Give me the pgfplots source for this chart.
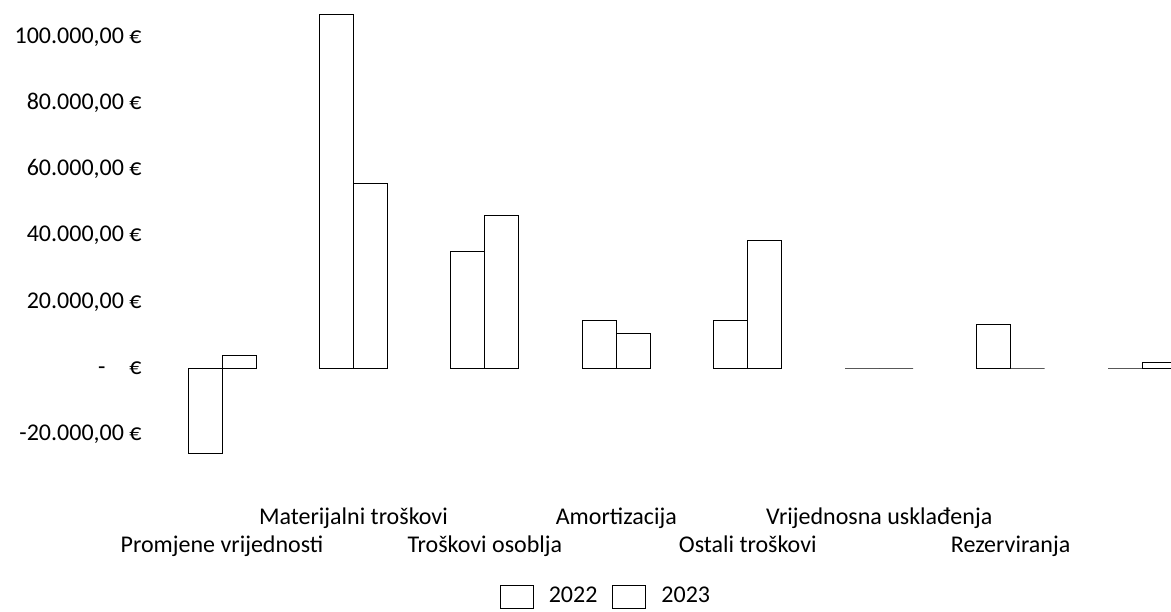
\documentclass[border=0pt]{standalone}
\usepackage{fontspec}
\setmainfont{Carlito}
\usepackage{pgfplots}
\pgfplotsset{compat=1.18}
\newcommand\lo[1]{\raisebox{-14pt}{#1}}
\begin{document}
\fontsize{12}{14}\selectfont
\begin{tikzpicture}
\useasboundingbox (0,0) rectangle (585.5pt,305.5pt);
\clip (0,0) rectangle (585.5pt,305.5pt);
\begin{axis}[
  at={(75pt,65.5pt)}, anchor=south west,
  scale only axis, width=510.5pt, height=237.5pt,
  xmin=-0.5478, xmax=7.2205,
  ymin=-33837, ymax=109668,
  axis line style={draw=none},
  major tick length=0pt,
  ybar=0pt, bar width=17pt,
  xtick={0,...,7},
  xticklabels={\lo{Promjene vrijednosti},Materijalni troškovi,\lo{Troškovi osoblja},Amortizacija,\lo{Ostali troškovi},Vrijednosna usklađenja,\lo{Rezerviranja},{}},
  xticklabel style={anchor=base, yshift=-22pt, inner sep=0pt, font=\fontsize{12}{14}\selectfont},
  ytick={-20000,0,20000,40000,60000,80000,100000},
  yticklabels={-20.000{,}00 €,-\hspace{1.0em}€,20.000{,}00 €,40.000{,}00 €,60.000{,}00 €,80.000{,}00 €,100.000{,}00 €},
  yticklabel style={anchor=east, inner sep=0pt, xshift=-4pt, font=\fontsize{12}{14}\selectfont},
  legend style={at={(0.4456,-0.2463)}, anchor=center, draw=none, legend columns=2,
    column sep=7.5pt, font=\fontsize{12}{14}\selectfont, nodes={inner sep=0pt}},
  legend image code/.code={\draw[#1] (0pt,-5.75pt) rectangle (16.5pt,5.75pt);},
]
\addplot[draw=black, fill=white, line width=0.5pt] coordinates {
  (0,-25800) (1,106700) (2,35300) (3,14500) (4,14500) (5,0) (6,13000) (7,0)};
\addplot[draw=black, fill=white, line width=0.5pt] coordinates {
  (0,3700) (1,55800) (2,46200) (3,10400) (4,38500) (5,0) (6,0) (7,1800)};
\legend{2022,2023}
\end{axis}
\end{tikzpicture}
\end{document}
